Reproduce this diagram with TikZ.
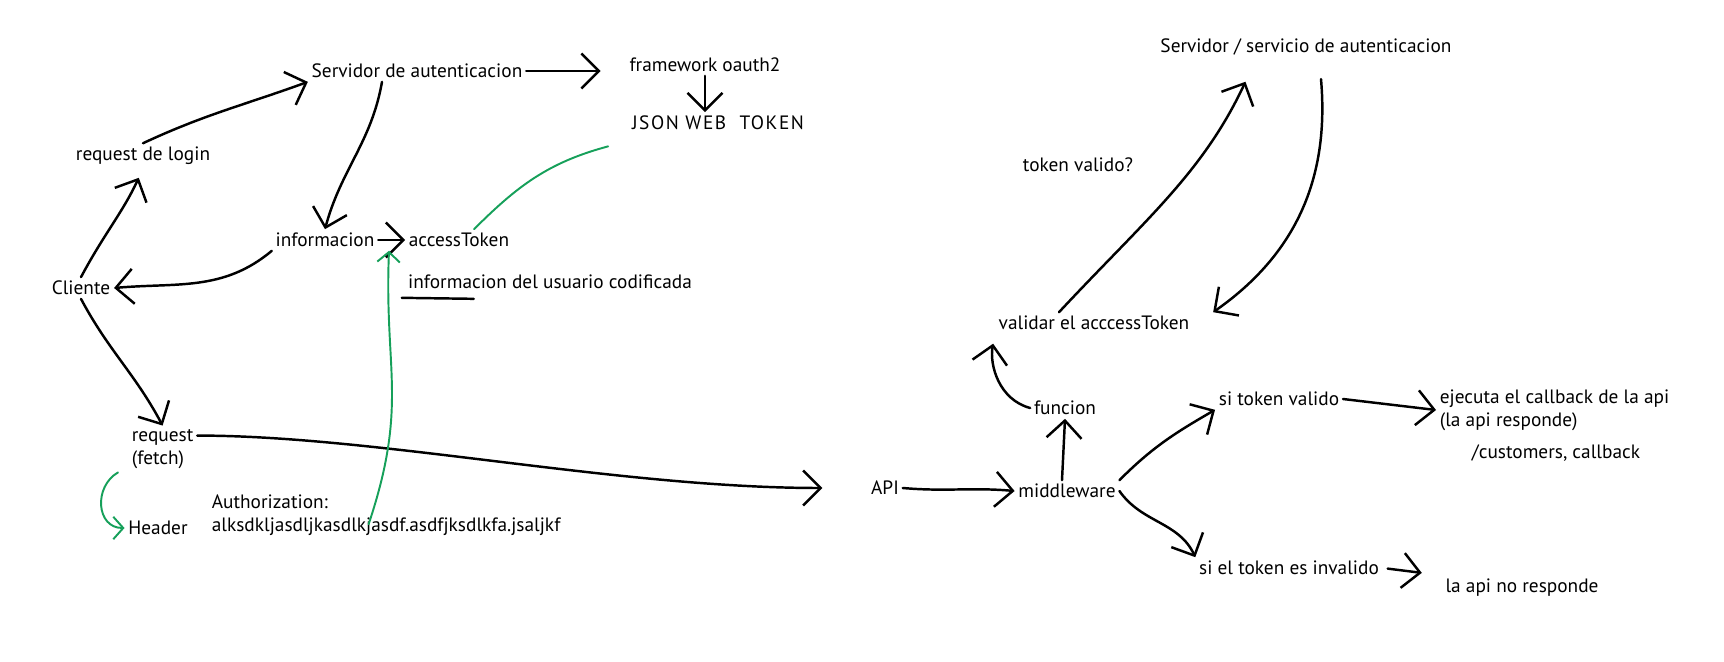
\documentclass[tikz,border=0pt]{standalone}
\usepackage{fontspec}
\setmainfont{PT Sans}
\usetikzlibrary{arrows.meta}
\usetikzlibrary{calc}
\tikzset{>={Straight Barb[length=3.5mm,width=7mm]}}
\definecolor{pengreen}{RGB}{22,160,90}
\tikzset{txt/.style={inner sep=2pt, font=\fontsize{11}{13}\selectfont}}
\tikzset{pen/.style={line width=1.4pt, line cap=round, line join=round}}
\tikzset{gpen/.style={line width=1.1pt, pengreen, line cap=round, >={Straight Barb[length=2mm,width=4.5mm]}}}

\begin{document}
\begin{tikzpicture}[x=0.02cm, y=-0.02cm]

\useasboundingbox (0,0) rectangle (1724,662);

% login y servidor
\node[txt] (serv) at (417,71) {Servidor de autenticacion};
\node[txt] (framework) at (705,65) {framework oauth2};
\node[txt] (jwt) at (718,123) {\addfontfeature{LetterSpace=8}JSON WEB\ \ TOKEN};
\node[txt] (login) at (143,156) {request de login};
\node[txt] (info) at (325,240) {informacion};
\node[txt] (token) at (459,240) {accessToken};
\node[txt] (infousr) at (550,282) {informacion del usuario codificada};
\node[txt] (cliente) at (81,288) {Cliente};
\node[txt, anchor=west, align=left] (request) at (128,449) {request\\(fetch)};
\node[txt] (header) at (158,528) {Header};
\node[txt, anchor=west, align=left] (auth) at (208,515) {Authorization:\\alksdkljasdljkasdlkjasdf.asdfjksdlkfa.jsaljkf};

% api
\node[txt] (api) at (885,488) {API};
\node[txt] (middleware) at (1067,491) {middleware};
\node[txt] (funcion) at (1065,408) {funcion};
\node[txt] (validar) at (1094,323) {validar el acccessToken};
\node[txt] (tokq) at (1078,165) {token valido?};
\node[txt] (servauth) at (1306,47) {Servidor / servicio de autenticacion};
\node[txt] (valido) at (1279,399) {si token valido};
\node[txt, anchor=west, align=left] (ejecuta) at (1436,410) {ejecuta el callback de la api\\(la api responde)};
\node[txt] (customers) at (1556,453) {/customers, callback};
\node[txt] (invalido) at (1289,568) {si el token es invalido};
\node[txt] (noresp) at (1522,588) {la api no responde};

\draw[pen, ->] (login.north) to[out=25, in=200] (serv.south west);
\draw[pen, ->, shorten >=5mm] (serv.east) -- (framework.west |- serv.east);
\draw[pen, ->] (framework.south) -- (framework.south |- jwt.north);
\draw[pen, ->] ([xshift=-0.7cm]serv.south) to[out=-100, in=75] (info.north);
\draw[pen, ->] (info.east) -- (token.west);
\draw[pen, ->] (info.south west) to[out=-140, in=5] (cliente.east);
\draw[pen, ->, shorten >=2mm] (cliente.north) to[out=62, in=-115] (login.south);
\draw[pen, ->] (cliente.south) to[out=-62, in=118] (request.north);
\draw[pen, ->, shorten >=9mm] ([yshift=-2mm]request.north east) .. controls +(180,0) and +(-250,0) .. (api.west);
\draw[pen] ([xshift=-0.05cm, yshift=-0.1cm]infousr.south west) -- ++(72,1);

% verde
\draw[gpen, ->] ([xshift=-0.2cm]request.south west) to[out=210, in=180, looseness=1.3] (header.west);
\draw[gpen, ->] ([xshift=-0.35cm, yshift=0.3cm]auth.south) .. controls +(40,-120) and +(-5,120) .. ([xshift=-1.4cm]token.south);
\draw[gpen] ([xshift=-0.4cm, yshift=-0.25cm]jwt.south west) to[out=195, in=45] ([xshift=0.3cm]token.north);

% middleware
\draw[pen, ->, shorten >=5mm] ([xshift=-0.7cm]validar.north) to[out=47, in=-115] ([xshift=-1cm]servauth.south);
\draw[pen, ->] ([xshift=0.3cm, yshift=-0.4cm]servauth.south) to[out=-85, in=35] ([xshift=0.4cm]validar.north east);
\draw[pen, ->] (api.east) to[out=-5, in=175] (middleware.west);
\draw[pen, ->] ([xshift=-0.1cm]middleware.north) -- (funcion.south);
\draw[pen, ->, shorten >=2mm] (funcion.west) to[out=165, in=-100] (validar.south west);
\draw[pen, ->] (middleware.north east) to[out=45, in=210] (valido.south west);
\draw[pen, ->] (valido.east) -- (ejecuta.west);
\draw[pen, ->] (middleware.east) to[out=-55, in=115] (invalido.north west);
\draw[pen, ->, shorten >=4mm, shorten <=1mm] (invalido.east) -- (noresp.north west);

\end{tikzpicture}
\end{document}
